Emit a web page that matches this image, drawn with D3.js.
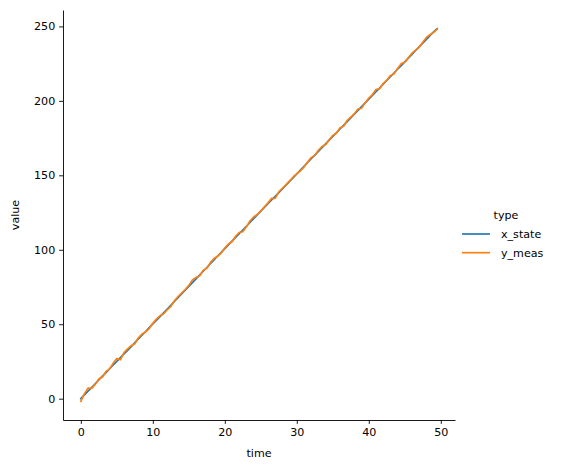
<!DOCTYPE html>
<html>
<head>
<meta charset="utf-8">
<script src="https://cdn.jsdelivr.net/npm/d3@7"></script>
<style>
  body { margin: 0; background: #fff; }
  text { font-family: "DejaVu Sans", sans-serif; }
</style>
</head>
<body>
<svg id="chart" width="563" height="470"></svg>
<script>
const time = [0,0.5,1,1.5,2,2.5,3,3.5,4,4.5,5,5.5,6,6.5,7,7.5,8,8.5,9,9.5,
  10,10.5,11,11.5,12,12.5,13,13.5,14,14.5,15,15.5,16,16.5,17,17.5,18,18.5,19,19.5,
  20,20.5,21,21.5,22,22.5,23,23.5,24,24.5,25,25.5,26,26.5,27,27.5,28,28.5,29,29.5,
  30,30.5,31,31.5,32,32.5,33,33.5,34,34.5,35,35.5,36,36.5,37,37.5,38,38.5,39,39.5,
  40,40.5,41,41.5,42,42.5,43,43.5,44,44.5,45,45.5,46,46.5,47,47.5,48,48.5,49,49.5];

const xState = [0.0,2.6,5.1,7.4,10.0,12.6,15.1,17.5,20.1,22.6,
  25.0,27.6,30.1,32.5,35.0,37.6,40.2,42.6,45.1,47.7,
  50.2,52.6,55.1,57.6,60.1,62.7,65.3,67.8,70.4,72.9,
  75.4,77.9,80.5,83.0,85.6,88.1,90.6,93.2,95.8,98.3,
  100.8,103.3,105.8,108.3,110.8,113.3,115.8,118.3,120.9,123.4,
  125.9,128.4,130.9,133.4,135.9,138.4,140.9,143.4,145.9,148.4,
  150.9,153.5,156.0,158.6,161.1,163.6,166.1,168.6,171.1,173.6,
  176.1,178.6,181.1,183.6,186.1,188.6,191.1,193.6,196.1,198.6,
  201.1,203.6,206.1,208.6,211.2,213.7,216.2,218.7,221.2,223.7,
  226.2,228.7,231.2,233.8,236.3,238.8,241.3,243.8,246.3,248.5];

const yMeas = [-1.8,3.4,7.1,6.9,9.6,13.2,14.6,18.3,20.0,23.9,
  26.9,26.1,30.9,33.4,35.6,36.9,40.9,43.4,44.8,47.1,
  50.6,53.4,55.7,57.0,59.7,61.9,65.8,68.6,70.9,73.3,
  76.1,79.8,81.4,82.4,86.3,87.6,91.4,94.1,95.6,97.9,
  101.2,103.9,105.4,109.1,111.6,112.1,115.4,119.3,122.0,123.7,
  126.1,128.9,131.5,134.6,134.5,138.9,141.3,143.6,146.3,148.9,
  151.2,153.0,155.6,158.9,161.9,163.4,166.8,169.3,170.6,173.9,
  176.8,178.3,181.9,182.9,186.9,189.1,191.4,194.5,195.0,198.8,
  201.9,204.2,207.6,208.2,211.6,213.9,217.0,218.1,221.8,225.0,
  225.9,229.0,232.0,234.1,236.0,239.4,242.6,244.4,246.0,248.2];

const seriesNames = ["x_state", "y_meas"];
const seriesColors = ["#1f77b4", "#ff7f0e"];
const xTicks = [0, 10, 20, 30, 40, 50];
const yTicks = [0, 50, 100, 150, 200, 250];

const series = [xState, yMeas].map((vals, i) => ({
  name: seriesNames[i], color: seriesColors[i],
  points: time.map((t, j) => ({ t, v: vals[j] }))
}));

const svg = d3.select("#chart");
const pLeft = 63, pRight = 455, pTop = 10, pBottom = 420;
const fontSize = 11.1;

const xmin = d3.min(time), xmax = d3.max(time);
const allV = xState.concat(yMeas);
const vmin = d3.min(allV), vmax = d3.max(allV);
const xpad = (xmax - xmin) * 0.05, ypad = (vmax - vmin) * 0.05;

const x = d3.scaleLinear().domain([xmin - xpad, xmax + xpad]).range([pLeft, pRight]);
const y = d3.scaleLinear().domain([vmin - ypad, vmax + ypad]).range([pBottom, pTop]);

const line = d3.line().x(d => x(d.t)).y(d => y(d.v));

svg.append("g").selectAll("path").data(series).join("path")
  .attr("d", d => line(d.points))
  .attr("fill", "none")
  .attr("stroke", d => d.color)
  .attr("stroke-width", 1.67)
  .attr("stroke-linejoin", "round")
  .attr("stroke-linecap", "square");

const xAxis = svg.append("g").attr("transform", `translate(0,${pBottom})`)
  .call(d3.axisBottom(x).tickValues(xTicks).tickSize(3.9).tickPadding(3.9).tickSizeOuter(0));
const yAxis = svg.append("g").attr("transform", `translate(${pLeft},0)`)
  .call(d3.axisLeft(y).tickValues(yTicks).tickSize(3.9).tickPadding(3.9).tickSizeOuter(0));

[xAxis, yAxis].forEach(g => {
  g.select(".domain").attr("stroke", "#000").attr("stroke-width", 0.9);
  g.selectAll(".tick line").attr("stroke", "#000").attr("stroke-width", 0.9);
  g.selectAll(".tick text").attr("fill", "#000")
    .style("font-family", "'DejaVu Sans', sans-serif").style("font-size", fontSize + "px");
});

svg.append("text").attr("x", (pLeft + pRight) / 2).attr("y", 457)
  .attr("text-anchor", "middle").style("font-size", fontSize + "px").text("time");
svg.append("text").attr("transform", `translate(19,${(pTop + pBottom) / 2}) rotate(-90)`)
  .attr("text-anchor", "middle").style("font-size", fontSize + "px").text("value");

// legend
const lg = svg.append("g");
lg.append("text").attr("x", 506).attr("y", 219).attr("text-anchor", "middle")
  .style("font-size", fontSize + "px").text("type");
series.forEach((s, i) => {
  const yy = 234 + i * 18.7;
  lg.append("line").attr("x1", 462).attr("x2", 490).attr("y1", yy).attr("y2", yy)
    .attr("stroke", s.color).attr("stroke-width", 1.67);
  lg.append("text").attr("x", 501).attr("y", yy + 4).style("font-size", fontSize + "px").text(s.name);
});
</script>
</body>
</html>
